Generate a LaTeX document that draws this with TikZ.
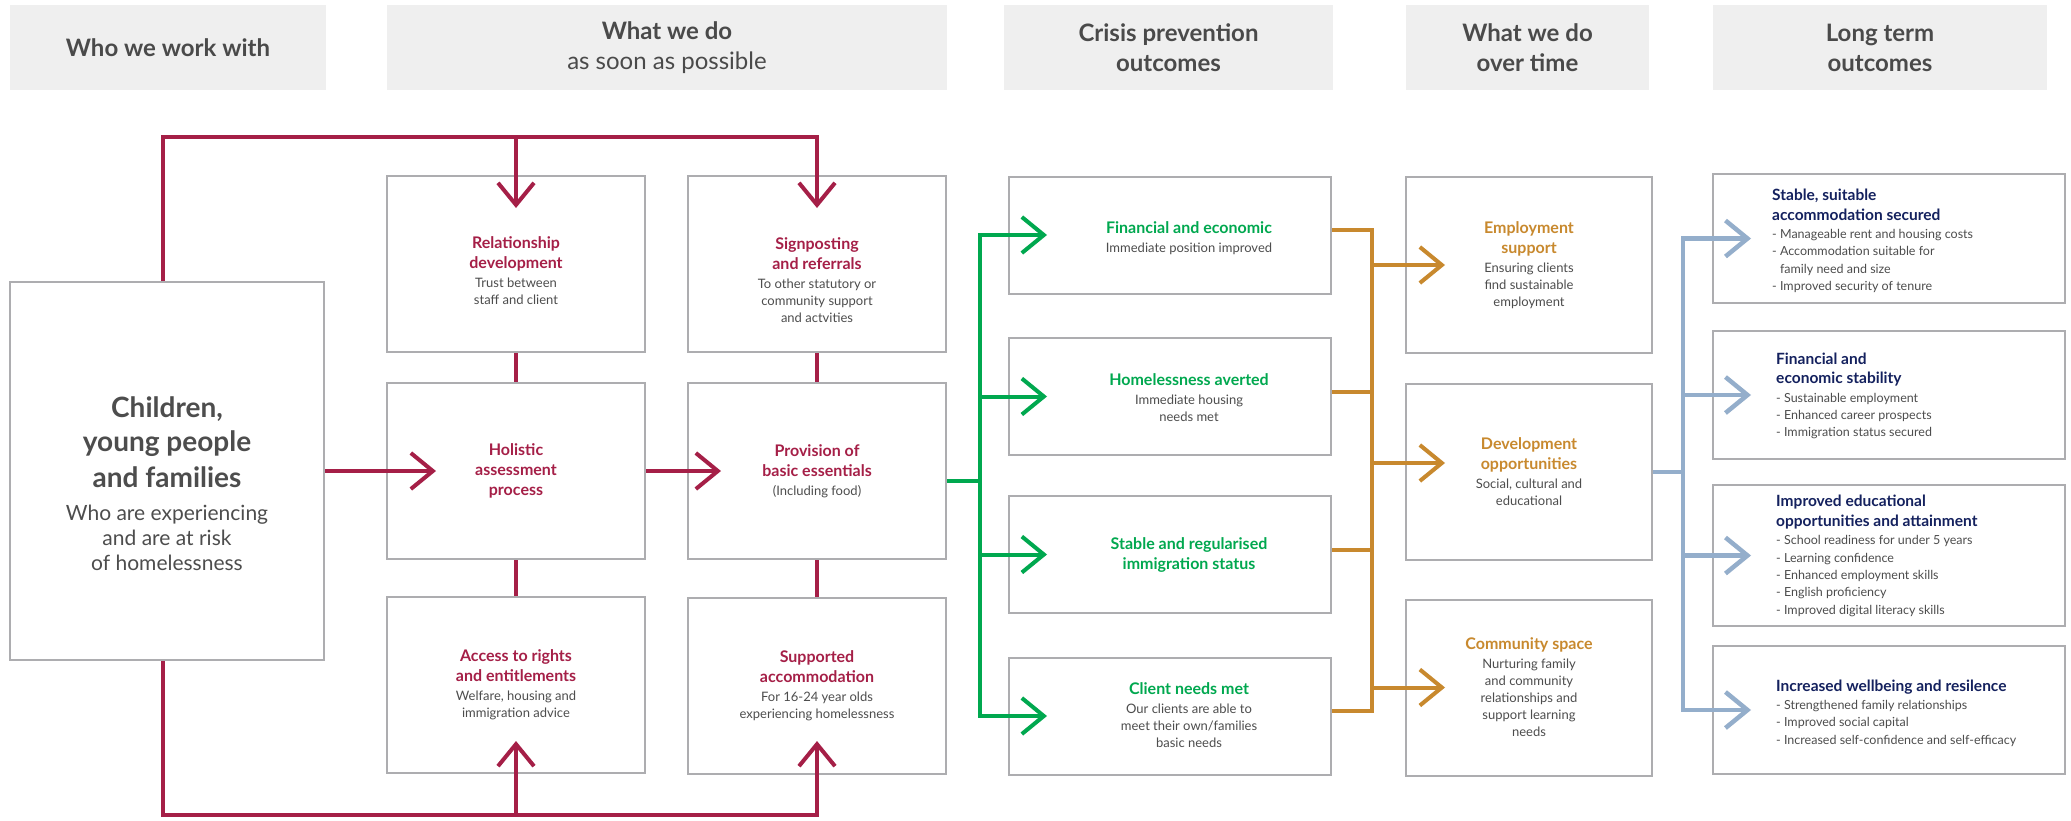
\documentclass[tikz,border=0pt]{standalone}
\usepackage{fontspec}
\setmainfont{Lato}
\usetikzlibrary{arrows.meta, positioning, calc}
\definecolor{crimson}{HTML}{A51F47}
\definecolor{leafgreen}{HTML}{00A84F}
\definecolor{ochre}{HTML}{C8892E}
\definecolor{steelblue}{HTML}{94AECB}
\definecolor{navytxt}{HTML}{14215E}
\definecolor{txtgray}{HTML}{4D4D4D}
\definecolor{boxgray}{HTML}{ADADB0}
\definecolor{hdrgray}{HTML}{EFEFEF}
\definecolor{hdrtext}{HTML}{4A4A4A}
\newcommand\subfont{\fontsize{13}{17}\selectfont}
\newcommand\bt[2]{\textcolor{#1}{\bfseries\fontsize{16}{20}\selectfont #2}}
\newcommand\nt[1]{\textcolor{navytxt}{\bfseries\fontsize{15.5}{19}\selectfont #1}}

\begin{document}
\begin{tikzpicture}[x=1pt, y=-1pt,
  box/.style={draw=boxgray, line width=2pt, fill=white, inner sep=0pt, align=center, text=txtgray, font=\subfont},
  hdr/.style={fill=hdrgray, inner sep=0pt, minimum height=85pt, align=center, text=hdrtext, font=\bfseries\fontsize{24}{30}\selectfont},
  ltxt/.style={anchor=west, inner sep=0pt, align=left, text=txtgray, font=\fontsize{12.5}{17.4}\selectfont},
  redln/.style={draw=crimson, line width=4pt},
  grnln/.style={draw=leafgreen, line width=4pt},
  orgln/.style={draw=ochre, line width=4pt},
  bluln/.style={draw=steelblue, line width=4.5pt},
  barb/.style={-{Straight Barb[length=22pt, width=36pt]}}]
\useasboundingbox (0,0) rectangle (2071,820);

\node[hdr, minimum width=316pt] (h1) at (168,47.5) {Who we work with};
\node[hdr, minimum width=560pt] (h2) at (667,47.5) {What we do\\{\mdseries as soon as possible}};
\node[hdr, minimum width=329pt] (h3) at (1168.5,47.5) {Crisis prevention\\outcomes};
\node[hdr, minimum width=243pt] (h4) at (1527.5,47.5) {What we do\\over time};
\node[hdr, minimum width=334pt] (h5) at (1880,47.5) {Long term\\outcomes};

\node[box, minimum width=314pt, minimum height=378pt] (child) at (167,471) {};
\node[text=txtgray, align=center, font=\fontsize{21}{25}\selectfont] (childtxt) at (167,484)
  {\textbf{\fontsize{28}{34}\selectfont Children,}\\[9pt]\textbf{\fontsize{28}{34}\selectfont young people}\\[9pt]\textbf{\fontsize{28}{34}\selectfont and families}\\[8pt]Who are experiencing\\and are at risk\\of homelessness};

\node[box, minimum width=258pt, minimum height=176pt] (rel) at (516,264) {\\[9pt]\bt{crimson}{Relationship}\\[3pt]\bt{crimson}{development}\\[2pt]Trust between\\staff and client};
\node[box, minimum width=258pt, minimum height=176pt] (hol) at (516,471) {\bt{crimson}{Holistic}\\[3pt]\bt{crimson}{assessment}\\[3pt]\bt{crimson}{process}};
\node[box, minimum width=258pt, minimum height=176pt] (acc) at (516,685) {\bt{crimson}{Access to rights}\\[3pt]\bt{crimson}{and entitlements}\\[2pt]Welfare, housing and\\immigration advice};
\node[box, minimum width=258pt, minimum height=176pt] (sig) at (817,264) {\\[28pt]\bt{crimson}{Signposting}\\[3pt]\bt{crimson}{and referrals}\\[2pt]To other statutory or\\community support\\and actvities};
\node[box, minimum width=258pt, minimum height=176pt] (prov) at (817,471) {\bt{crimson}{Provision of}\\[3pt]\bt{crimson}{basic essentials}\\[2pt](Including food)};
\node[box, minimum width=258pt, minimum height=176pt] (sup) at (817,686) {\bt{crimson}{Supported}\\[3pt]\bt{crimson}{accommodation}\\[2pt]For 16-24 year olds\\experiencing homelessness};

\node[box, minimum width=322pt, minimum height=117pt] (fin) at (1170,235) {};
\node[box, minimum width=322pt, minimum height=117pt] (hom) at (1170,396.5) {};
\node[box, minimum width=322pt, minimum height=117pt] (stab) at (1170,554.5) {};
\node[box, minimum width=322pt, minimum height=117pt] (cli) at (1170,716) {};
\node[align=center, text=txtgray, font=\subfont] (fintxt) at (1189,238) {\bt{leafgreen}{Financial and economic}\\[2pt]Immediate position improved};
\node[align=center, text=txtgray, font=\subfont] (homtxt) at (1189,398) {\bt{leafgreen}{Homelessness averted}\\[2pt]Immediate housing\\needs met};
\node[align=center, text=txtgray, font=\subfont] (stabtxt) at (1189,555) {\bt{leafgreen}{Stable and regularised}\\[3pt]\bt{leafgreen}{immigration status}};
\node[align=center, text=txtgray, font=\subfont] (clitxt) at (1189,715) {\bt{leafgreen}{Client needs met}\\[2pt]Our clients are able to\\meet their own/families\\basic needs};

\node[box, minimum width=246pt, minimum height=176pt] (emp) at (1529,265) {\bt{ochre}{Employment}\\[3pt]\bt{ochre}{support}\\[2pt]Ensuring clients\\find sustainable\\employment};
\node[box, minimum width=246pt, minimum height=176pt] (dev) at (1529,472) {\bt{ochre}{Development}\\[3pt]\bt{ochre}{opportunities}\\[2pt]Social, cultural and\\educational};
\node[box, minimum width=246pt, minimum height=176pt] (com) at (1529,687.5) {\bt{ochre}{Community space}\\[2pt]Nurturing family\\and community\\relationships and\\support learning\\needs};

\node[box, minimum width=352pt, minimum height=129pt] (lt1) at (1889,238.5) {};
\node[box, minimum width=352pt, minimum height=128pt] (lt2) at (1889,395) {};
\node[box, minimum width=352pt, minimum height=141pt] (lt3) at (1889,555.5) {};
\node[box, minimum width=352pt, minimum height=128pt] (lt4) at (1889,710) {};
\node[ltxt] (lt1txt) at (1772,241) {\nt{Stable, suitable}\\[2pt]\nt{accommodation secured}\\[1pt]- Manageable rent and housing costs\\- Accommodation suitable for\\\phantom{- }family need and size\\- Improved security of tenure};
\node[ltxt] (lt2txt) at (1776,396) {\nt{Financial and}\\[2pt]\nt{economic stability}\\[1pt]- Sustainable employment\\- Enhanced career prospects\\- Immigration status secured};
\node[ltxt] (lt3txt) at (1776,556) {\nt{Improved educational}\\[2pt]\nt{opportunities and attainment}\\[1pt]- School readiness for under 5 years\\- Learning confidence\\- Enhanced employment skills\\- English proficiency\\- Improved digital literacy skills};
\node[ltxt] (lt4txt) at (1776,713) {\nt{Increased wellbeing and resilence}\\[1pt]- Strengthened family relationships\\- Improved social capital\\- Increased self-confidence and self-efficacy};

\coordinate (top) at (0,137);
\coordinate (bot) at (0,815);
\coordinate (cn) at ([xshift=-4pt]child.north);
\coordinate (cs) at ([xshift=-4pt]child.south);
\draw[redln, barb] (cn) |- (sig.north |- top) -- ([yshift=-33pt]sig.north);
\draw[redln, barb] (rel.north |- top) -- ([yshift=-33pt]rel.north);
\draw[redln, barb] (cs) |- (sup.south |- bot) -- ([yshift=34pt]sup.south);
\draw[redln, barb] (acc.south |- bot) -- ([yshift=33pt]acc.south);
\draw[redln] (rel) -- (hol) -- (acc);
\draw[redln] (sig) -- (prov) -- (sup);
\draw[redln, barb] (child.east) -- ([xshift=50pt]hol.west);
\draw[redln, barb] (hol.east) -- ([xshift=34pt]prov.west);

\coordinate (gsplit) at (980,481);
\draw[grnln] ([yshift=-10pt]prov.east) -- (gsplit);
\draw[grnln, line cap=rect] (gsplit |- fin.west) -- (gsplit |- cli.west);
\foreach \n in {fin,hom,stab,cli}
  \draw[grnln, barb] (gsplit |- \n.west) -- ([xshift=39pt]\n.west);

\coordinate (osplit) at (1372,0);
\foreach \n in {fin,hom,stab,cli} {
  \coordinate (\n-o) at ([yshift=5pt]\n.east);
  \draw[orgln] (\n-o) -- (\n-o -| osplit);
}
\draw[orgln, line cap=rect] (osplit |- fin-o) -- (osplit |- cli-o);
\coordinate (dev-in) at ([yshift=9pt]dev.west);
\foreach \p in {emp.west,dev-in,com.west}
  \draw[orgln, barb] (osplit |- \p) -- ([xshift=40pt]\p);

\coordinate (bsplit) at (1683,0);
\draw[bluln] (dev.east) -- (dev.east -| bsplit);
\draw[bluln, line cap=rect] (bsplit |- lt1.west) -- (bsplit |- lt4.west);
\foreach \n in {lt1,lt2,lt3,lt4}
  \draw[bluln, barb] (bsplit |- \n.west) -- ([xshift=39pt]\n.west);
\end{tikzpicture}
\end{document}
